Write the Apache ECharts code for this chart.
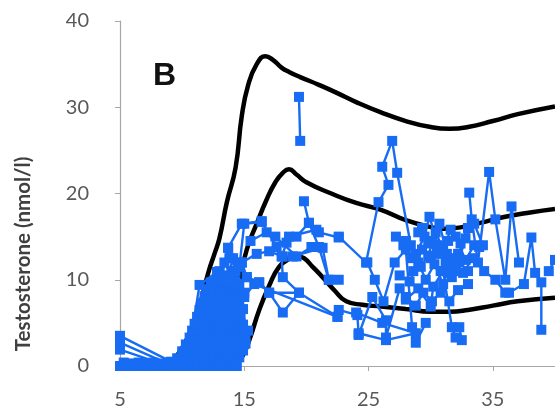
<!DOCTYPE html>
<html>
<head>
<meta charset="utf-8">
<script src="https://cdn.jsdelivr.net/npm/echarts@6/dist/echarts.min.js"></script>
<style>
  html, body { margin: 0; padding: 0; background: #fff; }
  #chart { width: 555px; height: 413px; }
</style>
</head>
<body>
<div id="chart"></div>
<script>
// reference curves (age in years, testosterone nmol/l)
var upperCurve = [[9,0],[9.5,1],[10.2,2.6],[10.8,4.5],[11.5,7.5],[12.1,10.8],[12.6,13],[13,14.8],[13.6,19],[14.3,23],[14.8,29],[15.3,32.5],[16,35],[16.7,35.9],[17.3,35.5],[18,34.6],[18.6,34.1],[19.5,33.5],[21,32.6],[22.4,31.7],[24,30.6],[26,29.4],[28,28.4],[30,27.7],[31.5,27.5],[33,27.7],[35,28.4],[37,29.2],[40,30.1]];
var middleCurve = [[10.5,0],[11.5,0.5],[12.5,2],[13.5,5],[14.4,8.8],[15.2,13.5],[16,16.5],[16.8,19.3],[17.5,21.3],[18.1,22.4],[18.6,22.8],[19.2,22.2],[20,21.3],[22,20],[24,18.9],[26,18.1],[28,16.9],[30,16.1],[31,15.9],[32.5,16.1],[34,16.6],[36,17.3],[38,17.8],[40,18.2]];
var lowerCurve = [[14.1,0],[14.8,1],[15.4,3],[16.2,6.5],[17,9.3],[17.8,11.5],[18.6,12.4],[19.3,12.7],[19.8,12.5],[20.5,11.5],[21.3,10.3],[22.3,8.7],[23.2,7.5],[24.5,7.1],[26,6.9],[28,6.6],[30,6.3],[31.5,6.3],[33,6.5],[35,7],[37,7.5],[40,7.9]];

// individual patients, one array of [age, T] each
var patients = [
  // prepubertal values near zero
  [[5,0],[5.6,0],[6.2,0],[6.8,0],[7.4,0],[8,0],[8.6,0],[9.2,0],[9.8,0],[10.4,0],[11,0],[11.6,0],[12.2,0],[12.8,0],[13.4,0],[14,0],[14.4,0]],
  [[5.3,0.4],[5.9,0.3],[6.5,0.4],[7.1,0.3],[7.7,0.4],[8.3,0.3],[8.9,0.4],[9.5,0.3],[10.1,0.4],[10.7,0.3],[11.3,0.4],[11.9,0.3],[12.5,0.4],[13.1,0.3],[13.7,0.4],[14.3,0.3]],
  [[5,3.5],[9.1,0.5],[10.3,0.4],[11.5,1.2],[12.6,3.5],[13.4,7.5],[14.2,10.5]],
  [[5,2.7],[8.8,0.3],[10,0.2],[11.2,0.9],[12.3,2.8],[13.1,5.5],[14,9]],
  [[5,1.9],[8.5,0.2],[9.8,0.3],[11,0.6],[12,2],[13,4.5],[13.8,6]],
  // early puberty, dense block
  [[9.6,0.9],[10.1,1],[10.6,0.8],[11.1,0.9],[11.6,1],[12.1,0.8],[12.6,0.9],[13.1,1],[13.6,0.8],[14.1,0.9],[14.6,1]],
  [[10,1.7],[10.5,1.8],[11,1.6],[11.5,1.7],[12,1.8],[12.5,1.6],[13,1.7],[13.5,1.8],[14,1.6],[14.5,1.7],[14.9,1.8]],
  [[10.3,2.5],[10.8,2.6],[11.3,2.4],[11.8,2.5],[12.3,2.6],[12.8,2.4],[13.3,2.5],[13.8,2.6],[14.3,2.4],[14.8,2.5],[15.1,2.6]],
  [[10.6,3.3],[11.1,3.4],[11.6,3.2],[12.1,3.3],[12.6,3.4],[13.1,3.2],[13.6,3.3],[14.1,3.4],[14.6,3.2],[15.1,3.3]],
  [[10.8,4.1],[11.3,4.2],[11.8,4],[12.3,4.1],[12.8,4.2],[13.3,4],[13.8,4.1],[14.3,4.2],[14.8,4],[15.3,4.1]],
  [[11,4.9],[11.5,5],[12,4.8],[12.5,4.9],[13,5],[13.5,4.8],[14,4.9],[14.5,5],[14.9,4.8]],
  [[11.2,5.7],[11.7,5.8],[12.2,5.6],[12.7,5.7],[13.2,5.8],[13.7,5.6],[14.2,5.7],[14.7,5.8]],
  [[11.4,6.5],[11.9,6.6],[12.4,6.4],[12.9,6.5],[13.4,6.6],[13.9,6.4],[14.4,6.5],[14.9,6.6]],
  [[11.6,7.3],[12.1,7.4],[12.6,7.2],[13.1,7.3],[13.6,7.4],[14.1,7.2],[14.6,7.3]],
  [[11.8,8.1],[12.3,8.2],[12.8,8],[13.3,8.1],[13.8,8.2],[14.3,8],[14.8,8.1]],
  [[12,8.9],[12.5,9],[13,8.8],[13.5,8.9],[14,9],[14.5,8.8]],
  [[12.3,9.7],[12.8,9.8],[13.3,9.6],[13.8,9.7],[14.3,9.8]],
  [[12.5,9.5],[13,11],[13.5,10],[14,11],[14.6,9.5],[15,8.5]],
  [[11.8,5],[12.3,7],[12.9,9.8],[13.4,12],[13.9,10.5],[14.7,5]],
  [[6.2,0],[7.8,0.2],[9.1,0.2],[10.4,0.5],[11.4,9.4],[12.8,10.9],[13.8,12.5],[14.6,11.5]],
  [[6.6,0.2],[9.5,0.1],[10.9,1.2],[11.9,4],[12.5,8],[13.2,10.5],[13.7,13.7],[14.8,16.5],[16.4,16.8]],
  [[12,3],[12.6,6.5],[13.1,8.5],[13.6,10],[14.1,12.5],[14.8,12],[15.2,10.3],[16.2,9.7],[17,8.5],[19.4,8.5],[22.5,5.7]],
  // mid puberty
  [[14.6,11.5],[15,16.5],[16.4,16.7],[17.6,13.8],[18.4,14.3],[19.2,15],[20.2,16.6],[21,15.5],[22.6,14.9]],
  [[14.8,12],[16,13],[17,13.3],[18.1,12.7],[18.9,12.7],[21.3,13.7],[21.8,10]],
  [[19.8,19.1],[20.2,16.6],[21,13.8],[21.8,10],[22.6,10]],
  [[19.4,31.2],[19.5,26.1]],
  [[15.2,10.3],[16.2,9.7],[17,8.5],[18.1,6.2],[19.4,8.5],[18.1,10.3],[18,12.7],[18.6,15],[20.8,15.8]],
  [[13.7,13.7],[14.3,11],[15,8],[15.8,9.5],[22.5,5.7]],
  [[15.5,14.5],[16.8,15.5],[17.5,15],[19.2,12.7],[20.4,13.8]],
  // adults
  [[22.6,15],[24.8,12],[25.8,19],[26.6,21],[26.1,23.1],[26.9,26.1],[27.3,22.4],[28.4,14]],
  [[22.6,6.5],[24.1,5.9],[24.2,3.6],[25.3,8],[26.4,5.3],[26.4,3.3],[27.5,9]],
  [[24.9,12],[25.5,10],[26.2,7.5],[27.1,12],[28,13.5],[28.5,4.5],[28.8,2.7],[29.6,5]],
  [[27.2,15],[28,14.5],[28.8,13],[29.5,15],[29.9,17.3],[30.6,14],[31.2,12],[31.7,10.3],[32.2,13]],
  [[28,7.7],[29,9],[30,6.9],[30.2,9.2],[31,11],[31.7,4.5],[32,3.3],[32.5,3],[32.3,4.5]],
  [[29,15.5],[29.8,14.5],[30.5,13],[31.4,14.5],[32,15],[32.8,12.3],[33.5,14],[33.9,13.8]],
  [[33.1,20.1],[33.3,17],[33.8,12],[34.7,22.5],[35.2,17],[36,10],[36.5,18.5],[37.1,12]],
  [[34.3,11],[35.2,10],[36,8.5],[36.3,8.5],[37.5,9.5],[38.1,14.9],[38.4,10.8],[38.9,9.7],[38.9,4.2]],
  [[39.5,11],[40,12.3]],
  [[27.8,14],[28.5,12.5],[29.2,11.5],[29.8,12.8],[30.4,15.5],[31,13.5],[31.6,15.8],[32.4,14.2],[33,16]],
  [[27.5,10.5],[28.3,9.8],[29,12],[29.6,10],[30.3,11.8],[31,9.5],[31.8,12.5],[32.6,10.8],[33.4,12.5]],
  [[28,8],[28.8,7],[29.4,8.5],[30.1,7.5],[30.8,8.5],[31.5,7.5],[32.2,8.8],[33,9.5]],
  [[29.3,16],[30,14.2],[30.7,16.5],[31.3,13],[32,11],[32.8,14.8],[33.5,16.5],[34.2,14]],
  [[24,6.2],[26.1,5],[28.8,3.8],[26.4,3],[24.2,3.8]],
  [[28.6,11],[29.3,13.5],[30,12.5],[30.8,11],[31.5,11.5],[32.3,12],[33,11]]
];

var xTicks = [5, 15, 25, 35];
var yTicks = [0, 10, 20, 30, 40];

var blue = '#176cf3';
var font = 'Lato, "Noto Sans", sans-serif';

var series = [];
[upperCurve, middleCurve, lowerCurve].forEach(function (c, i) {
  series.push({
    name: 'curve' + i,
    type: 'line',
    data: c,
    showSymbol: false,
    smooth: true,
    z: 2,
    lineStyle: { color: '#000', width: 4.5 }
  });
});
patients.forEach(function (p, i) {
  series.push({
    name: 'patient' + i,
    type: 'line',
    data: p,
    symbol: 'rect',
    symbolSize: 10,
    clip: false,
    z: 3,
    itemStyle: { color: blue },
    lineStyle: { color: blue, width: 2.4 }
  });
});

var chart = echarts.init(document.getElementById('chart'));
chart.setOption({
  animation: false,
  grid: { left: 120, right: 0, top: 21, bottom: 47 },
  xAxis: {
    type: 'value',
    min: xTicks[0],
    max: 40,
    interval: 10,
    axisLine: { lineStyle: { color: '#a6a6a6', width: 1.2 } },
    axisTick: { show: true, length: 5, lineStyle: { color: '#a6a6a6' } },
    splitLine: { show: false },
    axisLabel: { fontSize: 20, color: '#595959', fontFamily: font, margin: 24, showMaxLabel: false }
  },
  yAxis: {
    type: 'value',
    min: yTicks[0],
    max: yTicks[yTicks.length - 1],
    interval: 10,
    axisLine: { show: true, lineStyle: { color: '#a6a6a6', width: 1.2 } },
    axisTick: { show: true, length: 5, lineStyle: { color: '#a6a6a6' } },
    splitLine: { show: false },
    axisLabel: { fontSize: 20, color: '#595959', fontFamily: font, margin: 31 }
  },
  graphic: [
    {
      type: 'text', left: 153, top: 60,
      style: { text: 'B', font: 'bold 32px "Liberation Sans", Arial, sans-serif', fill: '#111' }
    },
    {
      type: 'text', x: 23, y: 254, rotation: Math.PI / 2,
      style: { text: 'Testosterone (nmol/l)', font: 'bold 20.5px ' + font, fill: '#404040', align: 'center', verticalAlign: 'middle' }
    }
  ],
  series: series
});
</script>
</body>
</html>
